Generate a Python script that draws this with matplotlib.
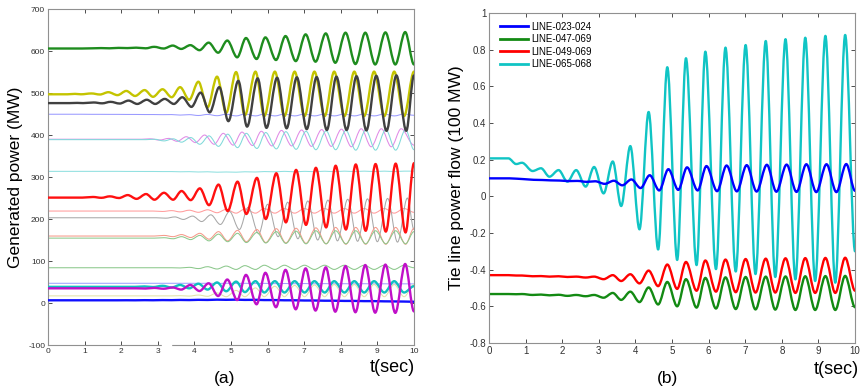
import numpy as np
import matplotlib
matplotlib.use("Agg")
import matplotlib.pyplot as plt
from matplotlib.path import Path
from matplotlib.patches import PathPatch, Rectangle
from matplotlib.lines import Line2D

plt.rcParams['font.family'] = ['Liberation Sans', 'DejaVu Sans']
plt.rcParams['axes.unicode_minus'] = False

# ---------------- data ----------------
# times (s) of the successive swing extremes shared by all curves
t_ext = [0, 0.53, 0.74, 0.90, 1.19, 1.42, 1.65, 1.90, 2.14, 2.38, 2.64, 2.87,
         3.13, 3.38, 3.61, 3.86, 4.11, 4.36, 4.62, 4.87, 5.14, 5.38, 5.67, 5.91,
         6.20, 6.46, 6.74, 7.01, 7.28, 7.56, 7.82, 8.10, 8.37, 8.64, 8.91, 9.19,
         9.46, 9.73, 10.0]

# ---- panel (a): generated power (MW) ----
gen_green = [606, 606, 606, 606, 606.5, 607, 606.5, 607.5, 607, 608, 606.5, 610,
             606, 613, 605, 614, 602, 620, 596, 625, 585, 631, 581, 632.5,
             578.6, 635.7, 576, 639.7, 574.6, 642, 572, 643.7, 569, 643.7, 568, 644.4,
             568, 645.2, 568]
gen_yellow = [497, 497, 498, 497, 499, 496.5, 502, 495, 505, 493, 507, 491,
              509, 490, 514, 484, 527, 466, 539, 453, 550, 447, 551, 445,
              551, 445, 551, 445, 551, 445, 551, 445, 551, 445, 551, 445,
              551, 445, 551]
gen_black = [476, 476, 476.5, 476, 477.5, 475.5, 479, 475, 482, 474, 484, 474,
             486, 474, 490, 467, 501, 454, 514, 433, 529, 420, 535, 417,
             536.5, 416, 537.5, 414, 538, 412, 539, 412, 540, 411, 541, 410,
             542, 410, 542]
gen_blue_thin = [449.5, 449.5, 449.5, 449.5, 449.3, 449.3, 449.2, 449.2, 449, 449, 448.8, 448.8,
                 448.5, 448.7, 447.5, 448.5, 446.5, 449, 446, 449.5, 445.5, 450, 445.5, 450,
                 445.5, 450, 445.5, 450, 445.5, 450, 445.5, 450, 445.5, 450, 445.5, 450,
                 445.5, 450, 447]
gen_magenta_thin = [390, 390, 390, 390, 390, 390, 390, 390, 390, 390, 390, 391,
                    388, 392, 385, 396, 382, 400, 378, 404, 376, 407, 375, 409,
                    374, 411, 374, 412, 373, 413, 373, 414, 372, 415, 372, 415,
                    372, 415, 376]
gen_cyan_thin = [389, 389, 389, 389, 389, 389, 389, 389, 389, 389, 389, 390,
                 386, 391, 383, 394, 378, 398, 373, 402, 370, 404, 368, 406,
                 367, 408, 366, 409, 365, 410, 365, 411, 364, 412, 364, 413,
                 364, 413, 365]
gen_cyan_flat = [313.5, 313.5, 313.5, 313.5, 313.5, 313.5, 313.5, 313.5, 313.3, 313.3, 313.2, 313.2,
                 313, 313, 312.5, 312.8, 312, 312.5, 311.5, 312, 311.5, 312.5, 312, 313,
                 312.5, 313.5, 312.5, 313.5, 312.8, 313.8, 312.8, 314, 313, 314, 313, 314,
                 313, 314, 314]
gen_red = [251, 251, 251, 251, 252.5, 250.5, 254, 250, 257, 248, 259.5, 246,
           262.5, 246, 266.7, 245, 273, 233, 282, 219, 289, 212, 298, 200,
           309, 192, 317, 186, 322, 180, 327, 175, 330, 172, 331, 170,
           332, 168, 333]
gen_red_thin_hi = [219, 219, 219, 219, 219, 219, 219, 219, 219, 219, 219, 219,
                   218, 220, 217, 221, 216, 222, 215, 223, 214, 224, 214, 225,
                   214, 225, 214, 225, 214, 225, 214, 225, 214, 225, 214, 225,
                   214, 225, 216]
gen_gray_thin = [203, 203, 203, 203, 203, 203, 203, 203, 203, 203, 203, 203,
                 202, 205, 199, 207, 194, 210, 187, 218, 175, 228, 165, 235,
                 158, 240, 153, 243, 150, 245, 148, 247, 147, 248, 146, 249,
                 145, 250, 175]
gen_red_thin_lo = [159.5, 159.5, 159.5, 159.5, 159.5, 159.5, 159.5, 159.5, 159.5, 159.5, 159.5, 159.5,
                   161, 158, 163, 156, 166, 152, 170, 148, 173, 146, 175, 144,
                   177, 143, 178, 142, 179, 141, 180, 140, 180, 140, 180, 140,
                   180, 140, 178]
gen_green_thin_lo = [154.5, 154.5, 154.5, 154.5, 154.5, 154.5, 154.5, 154.5, 154.5, 154.5, 154.5, 154.5,
                     155.5, 153, 158, 151, 161, 148, 164, 146, 166, 144, 168, 143,
                     170, 142, 171, 141, 172, 141, 172, 141, 172, 141, 172, 141,
                     172, 141, 170]
gen_green_thin_84 = [84, 84, 84, 84, 84, 84, 84, 84, 84, 84, 84, 84,
                     84, 84, 83.5, 85, 82, 86.5, 81, 88, 80, 89, 80, 90,
                     80, 90, 80, 90, 80, 90, 80, 90, 80, 90, 80, 90,
                     80, 90, 84]
gen_blue_thin_47 = [47, 47, 47, 47, 47, 47, 47, 47, 47, 47, 47, 47,
                    47, 47, 47, 47, 46.8, 47, 46.5, 47, 46.5, 47, 46.3, 46.8,
                    46.2, 46.5, 46, 46.4, 45.8, 46.2, 45.7, 46, 45.6, 46, 45.5, 45.8,
                    45.4, 45.7, 45.5]
gen_cyan = [38.5, 38.5, 38.5, 38.5, 38.5, 38.5, 38.5, 38.5, 38.5, 38.5, 39.5, 38,
            41, 37, 43, 35, 46, 32, 49, 28, 51, 26, 52, 25,
            52, 25, 52, 25, 52, 25, 52, 25, 52, 25, 52, 25,
            52, 25, 40]
gen_magenta = [35, 35, 35, 35, 35, 35, 35, 35, 35, 35, 34.5, 36,
               34, 37, 32, 43, 28.6, 47, 16.7, 56, 7, 67, -3, 72,
               -10, 79, -15, 82.5, -18, 85, -20.7, 88, -22, 90.5, -23, 91.5,
               -23.5, 93, -20]
gen_yellow_thin = [17, 17, 17, 17, 17, 17, 17, 17, 17, 17, 17, 17,
                   17, 17, 17.5, 16.5, 19, 16, 24, 15, 30, 15, 36, 15,
                   40, 15, 42, 15, 43, 15, 44, 15, 44, 15, 44, 15,
                   44, 15, 44]
gen_blue = [6.5, 6.5, 6.5, 6.5, 6.5, 6.5, 6.5, 6.5, 6.6, 6.5, 6.8, 6.6,
            7, 6.8, 7.3, 7, 7.6, 7.3, 8, 7.6, 8, 7.4, 7.6, 7,
            7, 6.5, 6.5, 6, 6, 5.5, 5.5, 5, 5, 4.5, 4.5, 4,
            3.8, 3.5, 3]

# ---- panel (b): tie line power flow (100 MW) ----
line_023_024 = [0.098, 0.098, 0.096, 0.094, 0.090, 0.089, 0.087, 0.086, 0.083, 0.084, 0.079, 0.082,
                0.068, 0.085, 0.060, 0.092, 0.045, 0.115, 0.032, 0.148, 0.035, 0.158, 0.032, 0.165,
                0.028, 0.168, 0.027, 0.170, 0.026, 0.172, 0.025, 0.173, 0.024, 0.175, 0.023, 0.175,
                0.023, 0.176, 0.030]
line_047_069 = [-0.533, -0.533, -0.534, -0.533, -0.538, -0.536, -0.540, -0.537, -0.543, -0.538, -0.545, -0.538,
                -0.553, -0.527, -0.565, -0.520, -0.577, -0.497, -0.590, -0.467, -0.600, -0.452, -0.607, -0.445,
                -0.612, -0.442, -0.615, -0.440, -0.617, -0.438, -0.618, -0.437, -0.620, -0.436, -0.620, -0.435,
                -0.620, -0.434, -0.605]
line_049_069 = [-0.430, -0.430, -0.432, -0.432, -0.436, -0.435, -0.438, -0.436, -0.440, -0.438, -0.443, -0.438,
                -0.452, -0.430, -0.462, -0.425, -0.475, -0.405, -0.490, -0.372, -0.505, -0.358, -0.515, -0.350,
                -0.520, -0.345, -0.523, -0.342, -0.525, -0.340, -0.525, -0.338, -0.527, -0.337, -0.527, -0.336,
                -0.527, -0.335, -0.515]
line_065_068 = [0.207, 0.207, 0.176, 0.183, 0.138, 0.153, 0.107, 0.143, 0.080, 0.143, 0.053, 0.160,
                0.016, 0.190, -0.053, 0.274, -0.180, 0.460, -0.290, 0.704, -0.347, 0.753, -0.375, 0.789,
                -0.397, 0.811, -0.410, 0.825, -0.424, 0.847, -0.440, 0.857, -0.453, 0.865, -0.462, 0.875,
                -0.471, 0.880, -0.300]

legend_labels = ['LINE-023-024', 'LINE-047-069', 'LINE-049-069', 'LINE-065-068']

xticks = [0, 1, 2, 3, 4, 5, 6, 7, 8, 9, 10]
yticks_a = [-100, 0, 100, 200, 300, 400, 500, 600, 700]
yticks_b = [-0.8, -0.6, -0.4, -0.2, 0, 0.2, 0.4, 0.6, 0.8, 1]
yticklabels_b = ['-0.8', '-0.6', '-0.4', '-0.2', '0', '0.2', '0.4', '0.6', '0.8', '1']


# ---------------- helpers ----------------
def swing_path(times, values, shift=0.0):
    t = np.asarray(times, float) + shift
    t[0] = 0.0
    t[-1] = 10.0
    v = np.asarray(values, float)
    verts = [(t[0], v[0])]
    codes = [Path.MOVETO]
    for i in range(len(t) - 1):
        dt = t[i + 1] - t[i]
        verts += [(t[i] + dt / 3, v[i]), (t[i + 1] - dt / 3, v[i + 1]), (t[i + 1], v[i + 1])]
        codes += [Path.CURVE4] * 3
    return Path(verts, codes)


def draw(ax, values, color, lw, shift=0.0, z=2):
    p = PathPatch(swing_path(t_ext, values, shift), fill=False, edgecolor=color,
                  lw=lw, joinstyle='round', capstyle='round', zorder=z)
    ax.add_patch(p)


def style(ax, fs):
    for s in ax.spines.values():
        s.set_color('#909090')
        s.set_linewidth(0.8)
    ax.tick_params(direction='in', top=True, right=True, length=3, width=0.6,
                   labelsize=fs, colors='#303030', pad=2)
    ax.set_xlim(0, 10)
    ax.set_xticks(xticks)


fig = plt.figure(figsize=(8.61, 3.91), dpi=100)

# ---------------- panel (a) ----------------
axa = fig.add_axes([0.0557, 0.1176, 0.4251, 0.8593])
style(axa, 6)
axa.set_ylim(-100, 700)
axa.set_yticks(yticks_a)

thin = 0.75
draw(axa, gen_blue_thin, '#9a9aff', thin)
draw(axa, gen_magenta_thin, '#e08ae6', thin, shift=-0.08)
draw(axa, gen_cyan_thin, '#80dada', thin, shift=0.04)
draw(axa, gen_cyan_flat, '#90e0e0', thin)
draw(axa, gen_red_thin_hi, '#ff9c9c', thin)
draw(axa, gen_gray_thin, '#a8a8a8', thin, shift=0.09)
draw(axa, gen_red_thin_lo, '#f59a8a', thin, shift=0.04)
draw(axa, gen_green_thin_lo, '#8cc88c', thin, shift=0.04)
draw(axa, gen_green_thin_84, '#8cc88c', thin)
draw(axa, gen_blue_thin_47, '#a0a0ff', thin)
draw(axa, gen_yellow_thin, '#e2e2a8', thin)

thick = 1.7
draw(axa, gen_green, '#1e8c1e', thick, shift=0.03, z=3)
draw(axa, gen_yellow, '#c4c400', thick, shift=0.0, z=3)
draw(axa, gen_black, '#404040', thick, shift=0.06, z=3)
draw(axa, gen_red, '#ff1010', thick, shift=0.04, z=3)
draw(axa, gen_cyan, '#10c0c0', thick, z=3)
draw(axa, gen_magenta, '#c010c8', thick, shift=0.03, z=4)
draw(axa, gen_blue, '#1010ff', thick, z=3)

axa.set_ylabel('Generated power (MW)', fontsize=12.5, labelpad=4)

# gap in the bottom axis line, as in the source image
fig.add_artist(Rectangle((162 / 861, 1 - 348 / 391), 9 / 861, 6 / 391,
                         transform=fig.transFigure, color='white', zorder=10))

fig.text(392 / 861, 1 - 367 / 391, 't(sec)', fontsize=13, ha='center', va='center')
fig.text(225 / 861, 1 - 378 / 391, '(a)', fontsize=12.5, ha='center', va='center')

# ---------------- panel (b) ----------------
axb = fig.add_axes([0.568, 0.1228, 0.4251, 0.844])
style(axb, 7)
axb.set_ylim(-0.8, 1)
axb.set_yticks(yticks_b)
axb.set_yticklabels(yticklabels_b)

colors_b = ['#0000ff', '#138a13', '#ff0000', '#10c4c4']
series_b = [line_023_024, line_047_069, line_049_069, line_065_068]
shifts_b = [0.03, 0.0, 0.0, 0.0]
orders_b = [3, 2, 2, 2]
for vals, c, s, z in zip(series_b, colors_b, shifts_b, orders_b):
    draw(axb, vals, c, 1.7, shift=s, z=z)

handles = [Line2D([], [], color=c, lw=2) for c in colors_b]
axb.legend(handles, legend_labels, loc='upper left', bbox_to_anchor=(0.005, 1.0),
           frameon=False, fontsize=7, handlelength=2.9, handletextpad=0.35,
           labelspacing=0.25, borderaxespad=0.5)

axb.set_ylabel('Tie line power flow (100 MW)', fontsize=12.5, labelpad=4)
fig.text(836 / 861, 1 - 370 / 391, 't(sec)', fontsize=13, ha='center', va='center')
fig.text(668 / 861, 1 - 378 / 391, '(b)', fontsize=12.5, ha='center', va='center')

fig.savefig('out.png', dpi=100)
